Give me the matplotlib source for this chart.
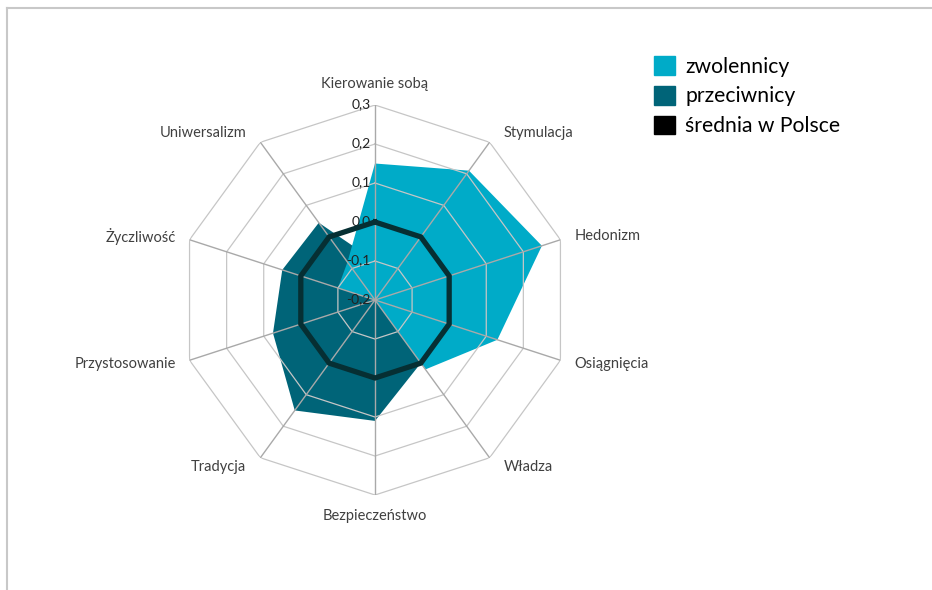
import numpy as np
import matplotlib
matplotlib.use("Agg")
from matplotlib import pyplot as plt
from matplotlib.patches import Patch
from matplotlib.lines import Line2D

categories = ["Kierowanie sobą", "Stymulacja", "Hedonizm", "Osiągnięcia", "Władza",
              "Bezpieczeństwo", "Tradycja", "Przystosowanie", "Życzliwość", "Uniwersalizm"]
zwolennicy = [0.15, 0.21, 0.25, 0.13, 0.02, -0.2, -0.2, -0.2, -0.1, -0.08]
przeciwnicy = [-0.1, -0.1, -0.15, -0.05, 0.0, 0.11, 0.15, 0.075, 0.05, 0.045]
srednia = [0.0] * 10
ticks = [-0.2, -0.1, 0.0, 0.1, 0.2, 0.3]
tick_labels = ["-0,2", "-0,1", "0,0", "0,1", "0,2", "0,3"]

LIGHT = "#00abc8"
DARK = "#006478"
AVG = "#062f33"
GRID = "#c6c6c6"
SPOKE = "#a9a9a9"

plt.rcParams["font.family"] = ["Lato", "DejaVu Sans"]

fig = plt.figure(figsize=(9.32, 5.90), dpi=100)
ax = fig.add_axes([0.1931, 0.161, 0.4185, 0.661], projection="polar")
ax.set_theta_zero_location("N")
ax.set_theta_direction(-1)
ax.set_ylim(ticks[0], ticks[-1])

n = len(categories)
theta = np.linspace(0, 2 * np.pi, n, endpoint=False)
closed = np.append(theta, theta[0])


def close(vals):
    return np.append(vals, vals[0])


ax.fill(closed, close(przeciwnicy), color=DARK, lw=0, zorder=2)
ax.fill(closed, close(zwolennicy), color=LIGHT, lw=0, zorder=3)

# polygon grid
for r in ticks[1:]:
    ax.plot(closed, [r] * (n + 1), color=GRID, lw=0.9, zorder=4)
for t in theta:
    ax.plot([t, t], [ticks[0], ticks[-1]], color=SPOKE, lw=1.0, zorder=4)

ax.plot(closed, close(srednia), color=AVG, lw=3.8, zorder=6, solid_joinstyle="miter")

ax.grid(False)
ax.spines["polar"].set_visible(False)
ax.set_xticks([])
ax.set_yticks([])
ax.set_facecolor("none")

for r, lab in zip(ticks, tick_labels):
    ax.annotate(lab, (0, r), xytext=(-4, 1), textcoords="offset pixels",
                ha="right", va="center", fontsize=10, color="#222222", zorder=5)

for t, lab in zip(theta, categories):
    s, c = np.sin(t), np.cos(t)
    if abs(s) < 0.01:
        ha, dx, dy = "center", 0, 21 * np.sign(c)
    else:
        ha = "left" if s > 0 else "right"
        dx, dy = 14 * np.sign(s), 11 * c
    ax.annotate(lab, (t, ticks[-1]), xytext=(dx, dy), textcoords="offset pixels",
                ha=ha, va="center", fontsize=10.5, color="#404040",
                annotation_clip=False)

handles = [Patch(color=LIGHT), Patch(color=DARK), Patch(color="black")]
fig.legend(handles, ["zwolennicy", "przeciwnicy", "średnia w Polsce"],
           loc="upper left", bbox_to_anchor=(654 / 932, 1 - 56 / 590),
           frameon=False, fontsize=15.2, borderpad=0, borderaxespad=0,
           handlelength=1.0, handleheight=1.0, labelspacing=0.43,
           handletextpad=0.48)

# chart frame (top and left edges visible)
y_top = 1 - 7.5 / 590
x_left = 6.5 / 932
fig.add_artist(Line2D([x_left, 1], [y_top, y_top], color="#c8c8c8", lw=1.5,
                      transform=fig.transFigure))
fig.add_artist(Line2D([x_left, x_left], [0, y_top], color="#c8c8c8", lw=1.5,
                      transform=fig.transFigure))

fig.savefig("out.png", dpi=100, facecolor="white")
